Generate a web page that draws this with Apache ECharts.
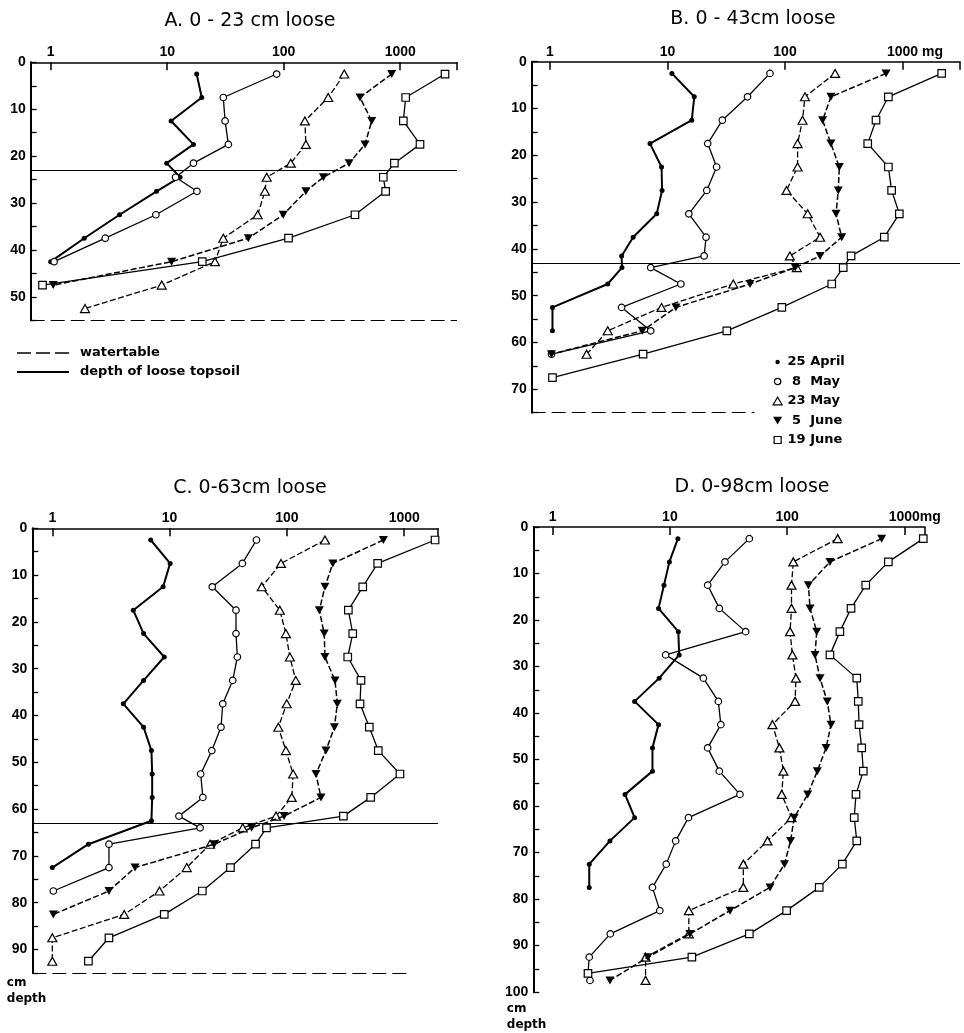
<!DOCTYPE html>
<html><head><meta charset="utf-8">
<script src="https://cdn.jsdelivr.net/npm/echarts@6/dist/echarts.min.js"></script>
<style>html,body{margin:0;padding:0;background:#fff}#c{width:964px;height:1033px}</style>
</head><body><div id="c"></div>
<script>
// ---------------- DATA ----------------
const seriesNames = ['25 April', '8 May', '23 May', '5 June', '19 June'];
const panelTitles = ['A. 0 - 23 cm loose', 'B. 0 - 43cm loose', 'C. 0-63cm loose', 'D. 0-98cm loose'];
const xTickLabels = [1, 10, 100, 1000];
const topsoilDepths = [23, 43, 63, null];
const watertableDepths = [55, 75, 95, null];

// Panel A
const depthA = [2.5, 7.5, 12.5, 17.5, 21.5, 24.5, 27.5, 32.5, 37.5, 42.5, 47.5, 52.5];
const A_apr25 = [17.9, 19.8, 10.8, 16.8, 9.9, 12.9, 8.1, 3.9, 1.94, 1.0, null, null];
const A_may8  = [87, 30.3, 31.4, 33.5, 16.8, 11.8, 18.0, 8.0, 2.94, 1.07, null, null];
const A_may23 = [331, 241, 152, 155, 115, 71.5, 69, 59.8, 30.3, 25.7, 8.97, 1.97];
const A_jun5  = [845, 452, 569, 499, 364, 219, 155, 99, 49.7, 10.9, 1.05, null];
const A_jun19 = [2425, 1114, 1064, 1479, 891, 716, 750, 409, 110, 20, 0.85, null];

// Panel B
const depthB = [2.5, 7.5, 12.5, 17.5, 22.5, 27.5, 32.5, 37.5, 41.5, 44, 47.5, 52.5, 57.5, 62.5, 67.5];
const B_apr25 = [10.9, 16.9, 16.1, 7.1, 8.9, 9.0, 8.1, 5.1, 4.07, 4.1, 3.1, 1.05, 1.05, null, null];
const B_may8  = [74.5, 48, 29.3, 22, 26.2, 21.6, 15.2, 21.3, 20.5, 7.2, 13, 4.07, 7.2, 1.03, null];
const B_may23 = [267, 148, 141, 128, 128, 103, 156, 199, 110, 126, 36.3, 8.9, 3.1, 2.05, null];
const B_jun5  = [724, 246, 209, 246, 290, 284, 272, 304, 199, 122, 50.4, 11.8, 6.1, 1.03, null];
const B_jun19 = [2155, 758, 595, 506, 758, 808, 940, 700, 365, 313, 250, 94, 32, 6.2, 1.05];

// Panel C
const depthC = [2.5, 7.5, 12.5, 17.5, 22.5, 27.5, 32.5, 37.5, 42.5, 47.5, 52.5, 57.5, 61.5, 62.5, 64, 67.5, 72.5, 77.5, 82.5, 87.5, 92.5];
const C_apr25 = [6.9, 10.1, 8.8, 4.9, 6.0, 9.0, 6.0, 4.03, 6.0, 7.0, 7.1, 7.1, null, 7.0, null, 2.03, 1.0, null, null, null, null];
const C_may8  = [55, 41.7, 23.1, 36.8, 36.8, 37.8, 34.5, 28.4, 27.4, 22.9, 18.4, 19.2, 12, null, 18.2, 3.04, 3.04, 1.02, null, null, null];
const C_may23 = [211, 89, 61, 87, 98, 106, 119, 99.6, 84.5, 98, 113, 110, 80.7, null, 42, 22.1, 14, 8.2, 4.1, 1.0, 1.0];
const C_jun5  = [664, 246, 211, 189, 208, 211, 257, 269, 254, 215, 177, 195, 94.5, null, 50, 24, 5.07, 3.04, 1.02, null, null];
const C_jun19 = [1832, 594, 443, 334, 364, 330, 428, 420, 504, 601, 920, 518, 303, null, 67, 54, 33, 19, 9.0, 3.04, 2.03];

// Panel D
const depthD = [2.5, 7.5, 12.5, 17.5, 22.5, 27.5, 32.5, 37.5, 42.5, 47.5, 52.5, 57.5, 62.5, 67.5, 72.5, 77.5, 82.5, 87.5, 92.5, 96, 97.5];
const D_apr25 = [11.7, 9.9, 8.9, 8.0, 11.8, 12, 8.1, 5.0, 8.0, 7.1, 7.1, 4.14, 5.0, 3.08, 2.05, 2.05, null, null, null, null, null];
const D_may8  = [47.6, 29.5, 21, 26.4, 44.3, 9.2, 19.3, 25.9, 27.2, 21, 26.4, 39.6, 14.4, 11.2, 9.3, 7.1, 8.2, 3.1, 2.05, 2.0, 2.08];
const D_may23 = [270, 113, 109, 109, 106, 111, 119, 117, 75, 86, 93, 90, 109, 68, 42.3, 42.3, 14.5, 14.5, 6.2, null, 6.2];
const D_jun5  = [641, 232, 152, 157, 179, 173, 191, 220, 237, 215, 181, 150, 115, 107, 95, 71.5, 32.6, 14.8, 6.5, null, 3.08];
const D_jun19 = [1452, 731, 469, 351, 282, 232, 393, 405, 411, 433, 447, 387, 374, 393, 296, 188, 99, 47.6, 15.4, 2.0, null];

// ---------------- LAYOUT ----------------
const panels = [
  { depths: depthA, vals: [A_apr25, A_may8, A_may23, A_jun5, A_jun19],
    grid: { left: 30.7, top: 62.3, width: 426.3, height: 258 }, xMin: 0.6734, xMax: 3073, yMax: 55,
    unit: null, waterEnd: null, title: [250, 12] },
  { depths: depthB, vals: [B_apr25, B_may8, B_may23, B_jun5, B_jun19],
    grid: { left: 531.7, top: 61.7, width: 428.3, height: 351 }, xMin: 0.699, xMax: 3086, yMax: 75,
    unit: ' mg', unitW: 25, waterEnd: 55, title: [753, 10] },
  { depths: depthC, vals: [C_apr25, C_may8, C_may23, C_jun5, C_jun19],
    grid: { left: 32.3, top: 528.3, width: 405.7, height: 444.6 }, xMin: 0.675, xMax: 1941, yMax: 95,
    unit: null, waterEnd: 1075, title: [250, 479], yName: true, nameW: 51, nameGap: 2 },
  { depths: depthD, vals: [D_apr25, D_may8, D_may23, D_jun5, D_jun19],
    grid: { left: 533.3, top: 527, width: 391.7, height: 465 }, xMin: 0.683, xMax: 1502, yMax: 100,
    unit: 'mg', unitW: 21, waterEnd: null, title: [752, 478], yName: true, nameW: 53, nameGap: 9 }
];

const FONT = 'Liberation Sans';
const downTri = 'path://M0,0L10,0L5,9Z';
const styles = [
  { symbol: 'circle', size: 5, fill: '#000', lw: 2, dash: 'solid',
    icon: 'path://M0,0M10,10M2.8,5A2.2,2.2,0,1,1,7.2,5A2.2,2.2,0,1,1,2.8,5Z' },
  { symbol: 'circle', size: 6.5, fill: '#fff', lw: 1.3, dash: 'solid',
    icon: 'path://M0,0M10,10M1.8,5A3.2,3.2,0,1,1,8.2,5A3.2,3.2,0,1,1,1.8,5Z' },
  { symbol: 'triangle', size: [9, 8], fill: '#fff', lw: 1.3, dash: [6, 2.5],
    icon: 'path://M0,0M10,10M0.5,8.8L5,1.2L9.5,8.8Z' },
  { symbol: downTri, size: [9, 8], fill: '#000', lw: 1.5, dash: [6, 2.5],
    icon: 'path://M0,0M10,10M0.5,1.2L9.5,1.2L5,9Z' },
  { symbol: 'rect', size: 7.5, fill: '#fff', lw: 1.3, dash: 'solid',
    icon: 'path://M0,0M10,10M1.5,1.5L8.5,1.5L8.5,8.5L1.5,8.5Z' }
];
const refLineIcons = {
  'watertable': 'path://M0,0M52,10M0,4.3h14v1.4h-14zM19,4.3h14v1.4h-14zM38,4.3h14v1.4h-14z',
  'depth of loose topsoil': 'path://M0,0M52,10M0,4h52v2h-52z'
};

function pts(depths, vals) {
  const out = [];
  for (let i = 0; i < depths.length; i++) if (vals[i] != null) out.push([vals[i], depths[i]]);
  return out;
}

function xFmt(unit) {
  return function (v) {
    const r = Math.round(v);
    if (xTickLabels.indexOf(r) < 0 || Math.abs(v - r) > 1e-6) return '';
    if (unit && r === 1000) return '{p| }{a|' + r + '}{u|' + unit + '}';
    return '{a|' + r + '}';
  };
}
const labTxt = { fontFamily: FONT, fontWeight: 'bold', fontSize: 14, color: '#000' };

const grids = [], xAxes = [], yAxes = [], series = [];
panels.forEach((p, pi) => {
  grids.push(Object.assign({ containLabel: false }, p.grid));
  xAxes.push({
    type: 'log', logBase: 10, gridIndex: pi, position: 'top', min: p.xMin, max: p.xMax,
    axisLine: { show: true, lineStyle: { color: '#000', width: 1.5 } },
    axisTick: { show: true, inside: true, length: 8, lineStyle: { color: '#000', width: 1.5 } },
    minorTick: { show: false }, splitLine: { show: false },
    axisLabel: { show: true, margin: 3, formatter: xFmt(p.unit), color: '#000',
      rich: { a: labTxt, u: labTxt, p: Object.assign({ width: p.unitW || 0 }, labTxt) } }
  });
  const y = {
    type: 'value', gridIndex: pi, inverse: true, min: 0, max: p.yMax, interval: 5,
    axisLine: { show: true, onZero: false, lineStyle: { color: '#000', width: 2 } },
    axisTick: { show: true, inside: true, length: 6, lineStyle: { color: '#000', width: 1.3 } },
    splitLine: { show: false },
    axisLabel: Object.assign({ margin: 5, formatter: v => (v % 10 === 0 ? String(v) : '') }, labTxt)
  };
  if (p.yName) {
    y.name = '{a|cm}\n{a|depth}';
    y.nameLocation = 'end';
    y.nameGap = p.nameGap;
    y.nameTextStyle = { verticalAlign: 'top', align: 'center',
      rich: { a: { width: p.nameW, align: 'left', fontFamily: 'DejaVu Sans', fontWeight: 'bold', fontSize: 12, lineHeight: 16, color: '#000' } } };
  }
  yAxes.push(y);

  seriesNames.forEach((nm, si) => {
    const st = styles[si];
    series.push({
      type: 'line', name: nm, xAxisIndex: pi, yAxisIndex: pi,
      data: pts(p.depths, p.vals[si]),
      symbol: st.symbol, symbolSize: st.size, showSymbol: true,
      lineStyle: { color: '#000', width: st.lw, type: st.dash },
      itemStyle: { color: st.fill, borderColor: '#000', borderWidth: st.fill === '#fff' ? 1.2 : 0 },
      emphasis: { disabled: true }, silent: true, z: 3 + si
    });
  });

  if (topsoilDepths[pi] != null) {
    series.push({
      type: 'line', name: 'depth of loose topsoil', xAxisIndex: pi, yAxisIndex: pi, data: [],
      symbol: 'none', lineStyle: { color: '#000', width: 1.6, type: 'solid' }, itemStyle: { color: '#000' },
      markLine: { silent: true, symbol: ['none', 'none'], label: { show: false },
        lineStyle: { color: '#000', width: 1.2, type: 'solid' }, emphasis: { disabled: true },
        data: [{ yAxis: topsoilDepths[pi] }] }
    });
  }
  if (watertableDepths[pi] != null) {
    const wd = watertableDepths[pi];
    series.push({
      type: 'line', name: 'watertable', xAxisIndex: pi, yAxisIndex: pi, data: [],
      symbol: 'none', lineStyle: { color: '#000', width: 1.4, type: [13, 6] }, itemStyle: { color: '#000' },
      markLine: { silent: true, symbol: ['none', 'none'], label: { show: false },
        lineStyle: { color: '#000', width: 1.2, type: [14, 6] }, emphasis: { disabled: true },
        data: p.waterEnd ? [[{ coord: [p.xMin, wd] }, { coord: [p.waterEnd, wd] }]] : [{ yAxis: wd }] }
    });
  }
});

const legTxt = { fontFamily: 'DejaVu Sans', fontWeight: 'bold', fontSize: 13, color: '#000', lineHeight: 14 };

const option = {
  animation: false,
  backgroundColor: '#fff',
  title: panels.map((p, i) => ({
    text: panelTitles[i], left: p.title[0], top: p.title[1], textAlign: 'center', padding: 0,
    textStyle: { fontFamily: 'DejaVu Sans', fontWeight: 'normal', fontSize: 19, color: '#000' }
  })),
  legend: [
    {
      orient: 'vertical', left: 767, top: 350, itemWidth: 10, itemHeight: 10, itemGap: 5.5,
      selectedMode: false,
      data: seriesNames.map((nm, si) => ({
        name: nm, icon: styles[si].icon,
        itemStyle: { color: styles[si].fill, borderColor: '#000', borderWidth: styles[si].fill === '#fff' ? 1.2 : 0 }
      })),
      formatter: nm => { const parts = nm.split(' '); return '{d|' + parts[0] + '} {m|' + parts[1] + '}'; },
      textStyle: Object.assign({}, legTxt, { rich: {
        d: Object.assign({ width: 18, align: 'right' }, legTxt),
        m: Object.assign({}, legTxt) } })
    },
    {
      orient: 'vertical', left: 12, top: 341, itemWidth: 52, itemHeight: 10, itemGap: 5,
      selectedMode: false,
      data: ['watertable', 'depth of loose topsoil'].map(nm => ({
        name: nm, icon: refLineIcons[nm], itemStyle: { color: '#000', borderWidth: 0 }
      })),
      textStyle: Object.assign({ padding: [0, 0, 0, 6] }, legTxt)
    }
  ],
  grid: grids, xAxis: xAxes, yAxis: yAxes, series: series
};

const chart = echarts.init(document.getElementById('c'), null, { renderer: 'canvas' });
chart.setOption(option);
</script></body></html>
